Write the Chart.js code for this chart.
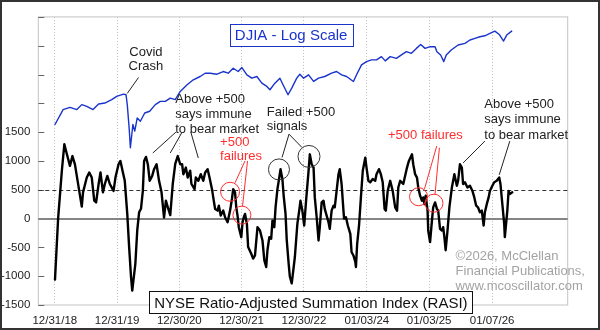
<!DOCTYPE html>
<html lang="en">
<head>
<meta charset="UTF-8">
<title>NYSE RASI vs DJIA</title>
<script src="https://cdn.jsdelivr.net/npm/chart.js@4.4.1/dist/chart.umd.min.js"></script>
<style>
  html, body { margin: 0; padding: 0; background: #fff; }
  #frame { width: 600px; height: 330px; box-sizing: border-box; border: 2px solid #333; background: #fff; }
  canvas { display: block; }
</style>
</head>
<body>
<div id="frame"><canvas id="myChart" width="596" height="326"></canvas></div>
<script>
// dates are decimal years
const tickYears = [2018.997, 2019.997, 2020.995, 2021.995, 2022.995, 2024.005, 2025.005, 2026.016];
const tickLabels = ['12/31/18', '12/31/19', '12/30/20', '12/30/21', '12/30/22', '01/03/24', '01/03/25', '01/07/26'];
const refLines = [0, 500];

const rasiYears = [
  2019.00, 2019.05, 2019.11, 2019.15, 2019.19, 2019.24, 2019.28, 2019.32, 2019.43, 2019.45,
  2019.51, 2019.55, 2019.59, 2019.63, 2019.66, 2019.70, 2019.73, 2019.77, 2019.80, 2019.84,
  2019.88, 2019.94, 2019.97, 2020.02, 2020.05, 2020.09, 2020.12, 2020.16, 2020.19, 2020.22,
  2020.24, 2020.29, 2020.32, 2020.35, 2020.38, 2020.41, 2020.43, 2020.46, 2020.49, 2020.52,
  2020.56, 2020.59, 2020.63, 2020.67, 2020.71, 2020.75, 2020.78, 2020.81, 2020.85, 2020.89,
  2020.93, 2020.97, 2021.01, 2021.04, 2021.06, 2021.10, 2021.13, 2021.17, 2021.19, 2021.24,
  2021.26, 2021.30, 2021.34, 2021.38, 2021.41, 2021.45, 2021.48, 2021.52, 2021.54, 2021.57,
  2021.61, 2021.63, 2021.66, 2021.70, 2021.73, 2021.77, 2021.81, 2021.84, 2021.86, 2021.89,
  2021.91, 2021.93, 2021.95, 2021.99, 2022.01, 2022.03, 2022.05, 2022.08, 2022.10, 2022.15,
  2022.18, 2022.21, 2022.25, 2022.29, 2022.33, 2022.36, 2022.39, 2022.41, 2022.44, 2022.47,
  2022.49, 2022.52, 2022.54, 2022.57, 2022.60, 2022.62, 2022.65, 2022.67, 2022.70, 2022.72,
  2022.75, 2022.77, 2022.80, 2022.85, 2022.89, 2022.92, 2022.94, 2022.97, 2023.00, 2023.03,
  2023.07, 2023.09, 2023.12, 2023.15, 2023.17, 2023.20, 2023.23, 2023.25, 2023.28, 2023.31,
  2023.33, 2023.36, 2023.39, 2023.41, 2023.44, 2023.47, 2023.49, 2023.52, 2023.55, 2023.57,
  2023.60, 2023.63, 2023.64, 2023.67, 2023.70, 2023.74, 2023.76, 2023.79, 2023.82, 2023.83,
  2023.85, 2023.88, 2023.91, 2023.94, 2023.98, 2024.00, 2024.03, 2024.06, 2024.10, 2024.14,
  2024.16, 2024.20, 2024.23, 2024.26, 2024.29, 2024.31, 2024.34, 2024.38, 2024.42, 2024.46,
  2024.49, 2024.51, 2024.54, 2024.59, 2024.65, 2024.68, 2024.73, 2024.75, 2024.78, 2024.81,
  2024.83, 2024.86, 2024.89, 2024.91, 2024.93, 2024.95, 2024.98, 2024.99, 2025.02, 2025.05,
  2025.07, 2025.10, 2025.13, 2025.15, 2025.18, 2025.21, 2025.23, 2025.25, 2025.27, 2025.30,
  2025.33, 2025.37, 2025.41, 2025.45, 2025.47, 2025.50, 2025.53, 2025.55, 2025.58, 2025.62,
  2025.66, 2025.70, 2025.73, 2025.76, 2025.79, 2025.82, 2025.85, 2025.88, 2025.90, 2025.93,
  2025.96, 2025.98, 2026.02, 2026.05, 2026.09, 2026.13, 2026.15, 2026.18, 2026.21, 2026.22,
  2026.26, 2026.28, 2026.30, 2026.34
];
const rasiValues = [
  -1060, 0, 830, 1290, 1120, 915, 1085, 940, 207, 455,
  712, 800, 712, 310, 280, 600, 800, 455, 600, 740,
  600, 480, 712, 943, 1000, 800, 655, 80, -495, -1010,
  -1250, -780, -207, 109, 170, 480, 1000, 1070, 943, 655,
  740, 857, 943, 655, 455, 17, 310, 200, 60, 600,
  950, 1085, 943, 943, 770, 885, 712, 830, 600, 510,
  712, 655, 770, 655, 800, 857, 712, 510, 367, 167,
  138, 224, 52, 138, 23, -63, 138, 340, 510, 450,
  190, 52, -150, -322, -63, 23, 80, -92, -495, -610,
  -695, -640, -150, -207, -380, -725, -840, -550, -322, -350,
  -35, -150, 195, 510, 712, 857, 685, 400, 86, -380,
  -780, -1010, -1125, -667, -92, 138, 310, 138, -120, 310,
  830, 1115, 943, 885, 367, 23, -380, -150, 280, 310,
  167, 52, -63, -178, 138, 224, 195, 480, 770, 857,
  600, 138, 0, 23, -120, -265, -580, -640, -753, -840,
  -437, -120, 367, 830, 1057, 885, 655, 630, 685, 655,
  770, 857, 770, 630, 167, 138, 480, 655, 480, 195,
  138, 540, 655, 600, 885, 1000, 1115, 943, 770, 712,
  540, 397, 310, 367, 250, 397, 138, -207, -408, -35,
  195, 280, 167, 140, -178, -207, -150, -322, -550, -207,
  195, 540, 770, 570, 655, 943, 885, 600, 630, 540,
  570, 480, 367, 224, 195, 110, 138, -120, 110, 250,
  367, 480, 570, 630, 655, 712, 600, 250, -92, -322,
  138, 480, 425, 455
];

const djiaYears = [
  2019.00, 2019.13, 2019.24, 2019.35, 2019.43, 2019.51, 2019.61, 2019.70, 2019.80, 2019.91,
  2019.99, 2020.10, 2020.14, 2020.16, 2020.19, 2020.21, 2020.25, 2020.28, 2020.32, 2020.37,
  2020.44, 2020.52, 2020.61, 2020.69, 2020.77, 2020.85, 2020.93, 2021.01, 2021.12, 2021.22,
  2021.33, 2021.41, 2021.49, 2021.60, 2021.70, 2021.78, 2021.86, 2021.94, 2022.00, 2022.08,
  2022.16, 2022.24, 2022.32, 2022.40, 2022.45, 2022.53, 2022.61, 2022.66, 2022.74, 2022.80,
  2022.88, 2022.93, 2022.99, 2023.07, 2023.15, 2023.23, 2023.33, 2023.44, 2023.52, 2023.60,
  2023.68, 2023.79, 2023.84, 2023.92, 2024.00, 2024.08, 2024.16, 2024.24, 2024.30, 2024.38,
  2024.48, 2024.56, 2024.64, 2024.72, 2024.80, 2024.87, 2024.94, 2025.02, 2025.10, 2025.13,
  2025.19, 2025.24, 2025.28, 2025.36, 2025.47, 2025.58, 2025.66, 2025.74, 2025.82, 2025.90,
  2025.98, 2026.06, 2026.13, 2026.20, 2026.25, 2026.33
];
const djiaValues = [
  23300, 26270, 26760, 26270, 27340, 26970, 26270, 27480, 27690, 28460,
  29220, 29760, 29600, 27340, 22680, 19320, 23300, 22080, 24560, 23920,
  25560, 25920, 27340, 28070, 28070, 28820, 28460, 30410, 32090, 33400,
  34290, 35210, 35210, 34930, 35690, 35210, 36640, 35690, 36850, 34760,
  33830, 34290, 32500, 31650, 30830, 32500, 33830, 32090, 29600, 31230,
  33830, 34930, 33830, 34760, 32950, 33830, 34290, 35210, 35690, 34760,
  34290, 32950, 34760, 37660, 38660, 39190, 39190, 40240, 38880, 40240,
  39700, 40790, 41880, 41320, 43000, 44400, 43000, 43590, 43590, 41880,
  40790, 38660, 40790, 42460, 44190, 44760, 45990, 46580, 47220, 47600,
  48490, 49420, 48100, 45620, 47870, 49420
];

const RED = '#ff2e2e';
const INK = '#222';

// annotations, placed in (year, RASI value) terms
const notes = [
  { x: 2022.79, y: 3183, lines: ['DJIA - Log Scale'], color: '#1a33cc', size: 15, align: 'center', box: '#1a33cc' },
  { x: 2020.46, y: 2896, lines: ['Covid', 'Crash'], color: INK, size: 13, align: 'center', lh: 13.5 },
  { x: 2020.93, y: 2086, lines: ['Above +500', 'says immune', 'to bear market'], color: INK, size: 13, align: 'left', lh: 15 },
  { x: 2022.40, y: 1862, lines: ['Failed +500', 'signals'], color: INK, size: 13, align: 'left', lh: 14 },
  { x: 2021.65, y: 1345, lines: ['+500', 'failures'], color: RED, size: 13, align: 'left', lh: 14 },
  { x: 2024.345, y: 1465, lines: ['+500 failures'], color: RED, size: 13, align: 'left' },
  { x: 2025.89, y: 2005, lines: ['Above +500', 'says immune', 'to bear market'], color: INK, size: 13, align: 'left', lh: 15.5 },
  { x: 2025.43, y: -638, lines: ['\u00a92026, McClellan', 'Financial Publications,', 'www.mcoscillator.com'], color: '#a3a3a3', size: 13, align: 'left', lh: 15 },
  { x: 2023.107, y: -1465, lines: ['NYSE Ratio-Adjusted Summation Index (RASI)'], color: '#111', size: 15, align: 'center', box: '#111' }
];
const pointers = [
  [2020.34, 2448, 2020.16, 2172, INK],
  [2020.94, 1500, 2020.57, 1138, INK],
  [2021.04, 1500, 2020.85, 1138, INK],
  [2021.18, 1500, 2021.30, 1052, INK],
  [2022.756, 1465, 2022.644, 1060, INK],
  [2022.756, 1465, 2022.965, 1233, INK],
  [2022.05, 1000, 2021.89, 621, RED],
  [2022.09, 1000, 2022.01, 216, RED],
  [2025.127, 1259, 2024.93, 512, RED],
  [2025.17, 1229, 2025.10, 426, RED],
  [2025.90, 1345, 2025.55, 965, INK],
  [2026.30, 1345, 2026.13, 759, INK]
];
const rings = [
  [2022.595, 853, 10.5, '#333'],
  [2023.077, 1078, 11, '#333'],
  [2021.81, 465, 9.5, RED],
  [2022.00, 60, 9, RED],
  [2024.835, 379, 9, RED],
  [2025.083, 267, 9, RED]
];

const FONT = '"Liberation Sans", Arial, sans-serif';

const overlay = {
  id: 'overlay',
  beforeDatasetsDraw(chart) {
    const ctx = chart.ctx, a = chart.chartArea, sy = chart.scales.y;
    ctx.save();
    // plot frame
    ctx.strokeStyle = '#c4c4c4';
    ctx.lineWidth = 1;
    ctx.strokeRect(a.left, a.top, a.right - a.left, a.bottom - a.top);
    // inward tick marks on the left edge
    ctx.strokeStyle = '#666';
    sy.ticks.forEach(t => {
      const yy = Math.round(sy.getPixelForValue(t.value)) + 0.5;
      ctx.beginPath(); ctx.moveTo(a.left, yy); ctx.lineTo(a.left + 6, yy); ctx.stroke();
    });
    // zero line and +500 line
    refLines.forEach(v => {
      const yy = Math.round(sy.getPixelForValue(v)) + (v === 0 ? 0 : 0.5);
      ctx.beginPath();
      if (v === 0) { ctx.strokeStyle = '#858585'; ctx.lineWidth = 2; ctx.setLineDash([]); }
      else { ctx.strokeStyle = '#333'; ctx.lineWidth = 1; ctx.setLineDash([4, 3]); }
      ctx.moveTo(a.left, yy); ctx.lineTo(a.right, yy); ctx.stroke();
    });
    ctx.restore();
  },
  afterDatasetsDraw(chart) {
    const ctx = chart.ctx, sx = chart.scales.x, sy = chart.scales.y;
    const X = v => sx.getPixelForValue(v), Y = v => sy.getPixelForValue(v);
    ctx.save();
    ctx.lineWidth = 1;
    pointers.forEach(p => {
      ctx.strokeStyle = p[4];
      ctx.beginPath(); ctx.moveTo(X(p[0]), Y(p[1])); ctx.lineTo(X(p[2]), Y(p[3])); ctx.stroke();
    });
    rings.forEach(r => {
      ctx.strokeStyle = r[3];
      ctx.beginPath(); ctx.arc(X(r[0]), Y(r[1]), r[2], 0, Math.PI * 2); ctx.stroke();
    });
    notes.forEach(n => {
      ctx.font = n.size + 'px ' + FONT;
      ctx.textBaseline = 'middle';
      ctx.textAlign = n.align;
      const x0 = X(n.x), y0 = Y(n.y);
      if (n.box) {
        const w = ctx.measureText(n.lines[0]).width + 10;
        const bx = n.align === 'center' ? x0 - w / 2 : x0 - 5;
        ctx.fillStyle = '#fff';
        ctx.fillRect(bx, y0 - 11.5, w, 23);
        ctx.strokeStyle = n.box;
        ctx.lineWidth = 1;
        ctx.strokeRect(Math.round(bx) + 0.5, Math.round(y0 - 11.5) + 0.5, Math.round(w), 22);
      }
      ctx.fillStyle = n.color;
      n.lines.forEach((s, i) => ctx.fillText(s, x0, y0 + i * (n.lh || 0) + 1));
    });
    ctx.restore();
  }
};

const ctx = document.getElementById('myChart').getContext('2d');
const chart = new Chart(ctx, {
  type: 'line',
  data: {
    datasets: [{
      label: 'NYSE RASI',
      data: rasiYears.map((x, i) => ({ x: x, y: rasiValues[i] })),
      borderColor: '#000',
      borderWidth: 2.4,
      yAxisID: 'y'
    }, {
      label: 'DJIA',
      data: djiaYears.map((x, i) => ({ x: x, y: djiaValues[i] })),
      borderColor: '#1a33cc',
      borderWidth: 1.4,
      yAxisID: 'yDj'
    }]
  },
  options: {
    responsive: false,
    animation: false,
    devicePixelRatio: 1,
    layout: { padding: { top: 13, right: 30.3, bottom: 0, left: 0 } },
    elements: { point: { radius: 0 }, line: { tension: 0, borderJoinStyle: 'round', borderCapStyle: 'round' } },
    plugins: { legend: { display: false }, tooltip: { enabled: false } },
    scales: {
      x: {
        type: 'linear',
        min: 2018.732,
        max: 2027.229,
        afterBuildTicks: s => { s.ticks = tickYears.map(v => ({ value: v })); },
        afterFit: s => { s.height = 23; },
        grid: { color: '#bdbdbd', lineWidth: 1, drawTicks: false },
        border: { display: false, dash: [1, 2] },
        ticks: {
          autoSkip: false, maxRotation: 0, padding: 9, color: INK,
          font: { family: FONT, size: 11.5 },
          callback: (v, i) => tickLabels[i]
        }
      },
      y: {
        min: -1500,
        max: 3500,
        afterFit: s => { s.width = 36.3; },
        grid: { display: false, drawTicks: false },
        border: { display: false },
        ticks: {
          stepSize: 500, padding: 8, color: INK,
          font: { family: FONT, size: 11.5 },
          callback: v => (v <= 1500 ? v : '')
        }
      },
      yDj: {
        type: 'logarithmic',
        display: false,
        min: 5446,
        max: 55410
      }
    }
  },
  plugins: [overlay]
});
</script>
</body>
</html>
